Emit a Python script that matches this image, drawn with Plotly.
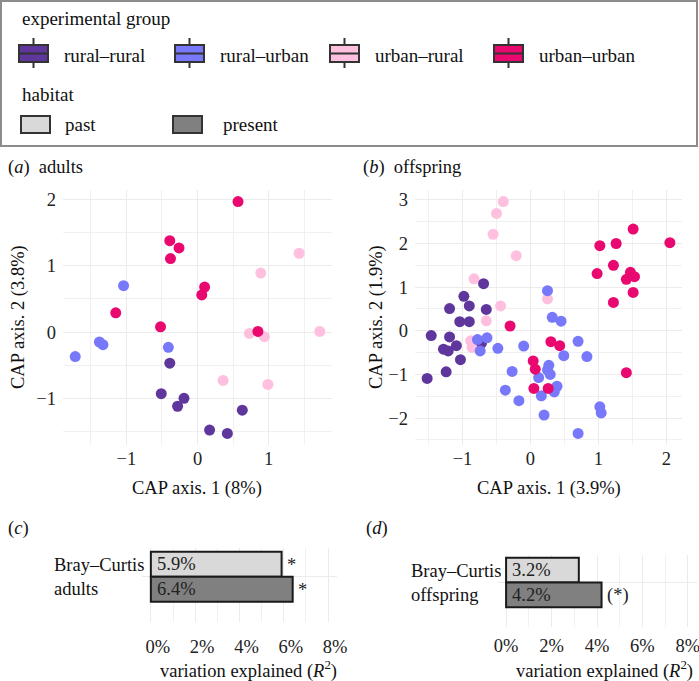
import plotly.graph_objects as go

W, H = 699, 681
FONT = "Liberation Serif, Times New Roman, serif"


def X(p):
    return p / W


def Y(p):
    return 1 - p / H


# ---------------- data ----------------
groups = ["rural–rural", "rural–urban", "urban–rural", "urban–urban"]
group_colors = ["#5f379c", "#7878fa", "#ffbfde", "#e8086f"]
habitats = ["past", "present"]
habitat_colors = ["#d9d9d9", "#808080"]

# (a) adults
a_rr_x = [-0.39, -0.51, -0.19, -0.28, 0.63, 0.17, 0.42]
a_rr_y = [-0.47, -0.93, -1.00, -1.12, -1.18, -1.48, -1.53]
a_ru_x = [-1.04, -1.38, -1.33, -1.72, -0.41]
a_ru_y = [0.70, -0.15, -0.19, -0.37, -0.23]
a_ur_x = [1.43, 0.89, 0.73, 0.94, 1.72, 0.36, 0.99]
a_ur_y = [1.19, 0.89, -0.02, -0.07, 0.01, -0.73, -0.79]
a_uu_x = [0.57, -0.39, -0.26, -0.38, 0.10, 0.06, -1.15, -0.52, 0.85]
a_uu_y = [1.97, 1.38, 1.27, 1.11, 0.68, 0.56, 0.29, 0.08, 0.01]

# (b) offspring
b_rr_x = [-0.69, -0.98, -0.90, -1.19, -0.65, -1.04, -0.90, -1.46, -1.19, -1.28,
          -1.21, -1.09, -1.03, -1.24, -1.52, -0.72]
b_rr_y = [1.08, 0.79, 0.57, 0.51, 0.49, 0.21, 0.21, -0.11, -0.14, -0.42,
          -0.46, -0.34, -0.66, -0.94, -1.09, -0.28]
b_ru_x = [0.25, 0.32, 0.45, 0.70, 0.83, 0.49, -0.10, -0.48, -0.78, -0.64,
          -0.74, -0.27, -0.37, -0.17, 0.16, 0.39, 0.35, 0.12, 0.27, 0.25,
          0.29, 0.20, 1.02, 1.04, 0.70]
b_ru_y = [0.92, 0.31, 0.22, -0.24, -0.59, -0.57, -0.35, -0.40, -0.20, -0.16,
          -0.46, -0.93, -1.36, -1.60, -1.49, -1.27, -1.40, -1.07, -0.79, -0.90,
          -1.00, -1.93, -1.74, -1.88, -2.35]
b_ur_x = [-0.40, -0.50, -0.55, -0.21, -0.83, -0.44, -0.65, 0.25, -0.88, -0.86]
b_ur_y = [2.96, 2.69, 2.21, 1.72, 1.19, 0.57, 0.23, 0.73, -0.23, -0.38]
b_uu_x = [1.51, 2.05, 1.02, 1.26, 1.22, 0.98, 1.47, 1.53, 1.41, 1.51,
          1.22, -0.30, 1.41, 0.30, 0.43, 0.04, 0.07, 0.05, 0.26]
b_uu_y = [2.33, 2.02, 1.95, 2.00, 1.50, 1.31, 1.34, 1.24, 1.18, 0.88,
          0.65, 0.11, -0.96, -0.25, -0.34, -0.69, -0.88, -1.32, -1.32]

# (c), (d) variation explained (R^2, %)
adults_r2 = [5.9, 6.4]
adults_sig = ["*", "*"]
offspring_r2 = [3.2, 4.2]
offspring_sig = ["", "(*)"]
bar_label_c = "Bray–Curtis<br>adults"
bar_label_d = "Bray–Curtis<br>offspring"

# ---------------- figure ----------------
fig = go.Figure()

a_x = [a_rr_x, a_ru_x, a_ur_x, a_uu_x]
a_y = [a_rr_y, a_ru_y, a_ur_y, a_uu_y]
b_x = [b_rr_x, b_ru_x, b_ur_x, b_uu_x]
b_y = [b_rr_y, b_ru_y, b_ur_y, b_uu_y]
draw_order = [2, 0, 1, 3]

for xs, ys, xa, ya in [(a_x, a_y, "x", "y"), (b_x, b_y, "x2", "y2")]:
    for gi in draw_order:
        fig.add_trace(go.Scatter(
            x=xs[gi], y=ys[gi], mode="markers", name=groups[gi],
            marker=dict(size=11, color=group_colors[gi], line=dict(width=0)),
            xaxis=xa, yaxis=ya, showlegend=False))

ann = []
TS = 18.5


def text(t, x, y, xanchor="left", angle=0, size=TS, align="left"):
    ann.append(dict(text=t, x=X(x), y=Y(y), xref="paper", yref="paper",
                    xanchor=xanchor, yanchor="middle", showarrow=False, align=align,
                    textangle=angle, font=dict(family=FONT, size=size, color="#111")))


pos = list(range(len(habitats)))[::-1]   # past on top, present below
for vals, sig, xa, ya in [(adults_r2, adults_sig, "x3", "y3"),
                          (offspring_r2, offspring_sig, "x4", "y4")]:
    fig.add_trace(go.Bar(
        x=vals, y=pos, orientation="h", width=1,
        marker=dict(color=habitat_colors, line=dict(color="#1a1a1a", width=2)),
        xaxis=xa, yaxis=ya, showlegend=False))
    for v, s, p in zip(vals, sig, pos):
        ann.append(dict(text=f"{v}%", x=0, y=p, xref=xa, yref=ya, xanchor="left",
                        yanchor="middle", xshift=4, showarrow=False,
                        font=dict(family=FONT, size=TS, color="#222")))
        if s:
            ann.append(dict(text=s, x=v, y=p, xref=xa, yref=ya, xanchor="left",
                            yanchor="middle", xshift=3, yshift=-1, showarrow=False,
                            font=dict(family=FONT, size=TS, color="#222")))


def expand(lists, f=0.05):
    allv = [v for l in lists for v in l]
    lo, hi = min(allv), max(allv)
    d = (hi - lo) * f
    return [lo - d, hi + d]


tickfont = dict(family=FONT, size=TS, color="#222")
grid = dict(showline=False, zeroline=False, ticks="", showgrid=True,
            gridcolor="#ebebeb", gridwidth=1.2, tickfont=tickfont,
            automargin=False, ticklabeloverflow="allow")


def minor(dt):
    return dict(dtick=dt, showgrid=True, gridcolor="#f0f0f0", gridwidth=0.8)


def bar_yrange(top_px, bot_px, dom_top, dom_bot):
    s = (bot_px - top_px) / 2.0
    return [-0.5 - (dom_bot - bot_px) / s, 1.5 + (top_px - dom_top) / s]


fig.update_layout(
    width=W, height=H, margin=dict(l=0, r=0, t=0, b=0),
    paper_bgcolor="white", plot_bgcolor="white", showlegend=False,
    font=dict(family=FONT, size=TS, color="#111"),
    xaxis=dict(domain=[X(63), X(332)], range=expand(a_x), dtick=1,
               minor=minor(0.5), anchor="y", side="bottom", **grid),
    yaxis=dict(domain=[Y(445), Y(190)], range=expand(a_y), dtick=1,
               minor=minor(0.5), anchor="x", ticklabelstandoff=6, **grid),
    xaxis2=dict(domain=[X(415), X(682)], range=expand(b_x), dtick=1,
                minor=minor(0.5), anchor="y2", side="bottom", **grid),
    yaxis2=dict(domain=[Y(445), Y(190)], range=expand(b_y), dtick=1,
                minor=minor(0.5), anchor="x2", ticklabelstandoff=6, **grid),
    xaxis3=dict(domain=[X(142), X(337)], range=[-0.4, 8.4], dtick=2,
                ticksuffix="%", minor=minor(1), anchor="y3",
                ticklabelshift=7, ticklabelstandoff=11, **grid),
    yaxis3=dict(domain=[Y(622), Y(548)],
                range=bar_yrange(551.7, 601.7, 548, 622),
                tickvals=[0.5], showticklabels=False, anchor="x3", **grid),
    xaxis4=dict(domain=[X(497), X(697)], range=[-0.4, 8.4], dtick=2,
                ticksuffix="%", minor=minor(1), anchor="y4",
                ticklabelstandoff=5, **grid),
    yaxis4=dict(domain=[Y(627), Y(555)],
                range=bar_yrange(557.7, 607.3, 555, 627),
                tickvals=[0.5], showticklabels=False, anchor="x4", **grid),
)

# category labels of the bar panels (left-aligned two-line labels)
ann.append(dict(text=bar_label_c, x=X(146), y=0.5, xref="paper", yref="y3",
                xanchor="right", yanchor="middle", align="left", showarrow=False,
                font=dict(family=FONT, size=TS, color="#111")))
ann.append(dict(text=bar_label_d, x=X(503), y=0.5, xref="paper", yref="y4",
                xanchor="right", yanchor="middle", align="left", showarrow=False,
                font=dict(family=FONT, size=TS, color="#111")))

text("(<i>a</i>)\u00a0\u00a0adults", 6, 167)
text("(<i>b</i>)\u00a0\u00a0offspring", 361, 167)
text("(<i>c</i>)", 6, 528)
text("(<i>d</i>)", 364, 528)
text("CAP axis. 1 (8%)", 197, 488, "center")
text("CAP axis. 1 (3.9%)", 549, 488, "center")
text("CAP axis. 2 (3.8%)", 18, 317, "center", -90)
text("CAP axis. 2 (1.9%)", 376, 317, "center", -90)
text("variation explained (<i>R</i><sup>2</sup>)", 248, 669, "center")
text("variation explained (<i>R</i><sup>2</sup>)", 604, 669, "center")

# ---- legend ----
shapes = [dict(type="rect", xref="paper", yref="paper", x0=X(1), x1=X(697),
               y0=Y(146), y1=Y(1), line=dict(color="#8c8c8c", width=2))]
text("experimental group", 20, 19, size=19)
text("habitat", 20, 95, size=19)
group_key_x = [19, 175, 330, 494]
for kx, g, c in zip(group_key_x, groups, group_colors):
    cx = kx + 14.5
    shapes.append(dict(type="line", xref="paper", yref="paper", x0=X(cx), x1=X(cx),
                       y0=Y(68), y1=Y(38), line=dict(color="#333", width=2)))
    shapes.append(dict(type="rect", xref="paper", yref="paper", x0=X(kx), x1=X(kx + 29),
                       y0=Y(62), y1=Y(45), fillcolor=c, line=dict(color="#333", width=2)))
    shapes.append(dict(type="line", xref="paper", yref="paper", x0=X(kx), x1=X(kx + 29),
                       y0=Y(53.5), y1=Y(53.5), line=dict(color="#333", width=2)))
    text(g, kx + 43, 56, size=19)
hab_key_x = [21, 173]
hab_text_x = [63, 221]
for kx, tx, h, c in zip(hab_key_x, hab_text_x, habitats, habitat_colors):
    shapes.append(dict(type="rect", xref="paper", yref="paper", x0=X(kx), x1=X(kx + 29),
                       y0=Y(133), y1=Y(116), fillcolor=c, line=dict(color="#333", width=2)))
    text(h, tx, 125, size=19)

fig.update_layout(annotations=ann, shapes=shapes)
fig.write_html("out.html",
               post_script="document.body.style.margin='0';"
                           "document.body.style.overflow='hidden';",
               config={"displayModeBar": False})
